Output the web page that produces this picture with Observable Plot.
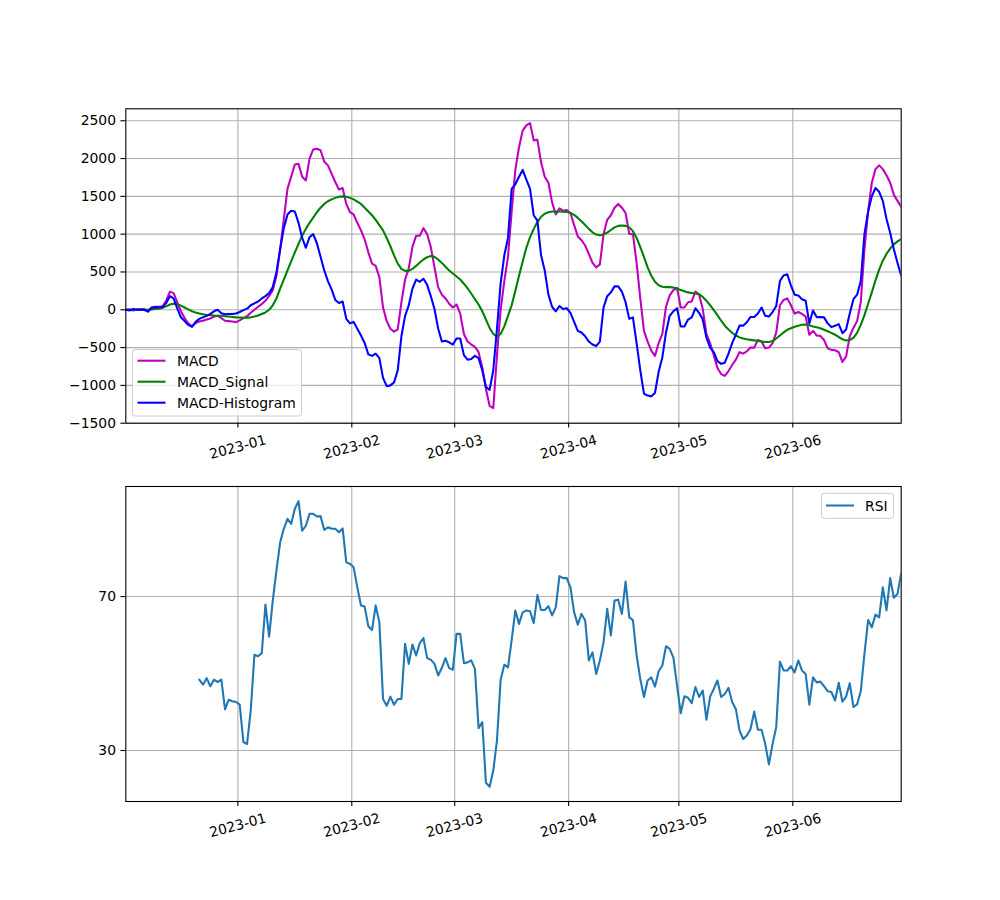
<!DOCTYPE html>
<html><head><meta charset="utf-8">
<script src="https://cdn.jsdelivr.net/npm/d3@7"></script>
<script src="https://cdn.jsdelivr.net/npm/@observablehq/plot@0.6"></script>
<style>
body{margin:0;background:#fff;}
#chart{width:1000px;height:900px;position:relative;background:#fff;}
#chart svg{display:block;}
</style>
</head><body><div id="chart"></div>
<script>
// ---- data (daily, starting at startDate) ----
const startDate = "2022-12-01T12:00:00Z";
const endDate = "2023-06-30T12:00:00Z";

const macd = [
0, 5, -10, 5, 0, 10, -20, 30, 40, 40,
45, 120, 240, 220, 100, -20, -110, -180, -220, -175,
-155, -145, -130, -115, -90, -80, -110, -145, -150, -155,
-163, -140, -110, -85, -40, 0, 40, 75, 120, 180,
260, 450, 800, 1200, 1600, 1760, 1920, 1930, 1760, 1710,
2000, 2120, 2130, 2110, 1960, 1910, 1800, 1690, 1590, 1610,
1400, 1290, 1260, 1150, 1050, 930, 760, 610, 580, 430,
30, -150, -250, -290, -260, 100, 400, 550, 830, 980,
980, 1080, 1000, 830, 560, 300, 200, 150, 80, 30,
70, -50, -320, -420, -460, -490, -560, -760, -1050, -1270,
-1300, -600, 0, 380, 700, 1300, 1850, 2150, 2370, 2440,
2470, 2240, 2250, 1950, 1760, 1680, 1420, 1260, 1340, 1310,
1320, 1280, 1120, 970, 920, 850, 740, 620, 560, 600,
1000, 1190, 1250, 1350, 1400, 1350, 1280, 1004, 1000, 620,
150, -280, -420, -540, -610, -440, -320, 40, 190, 260,
290, 30, 30, 100, 110, 240, 200, 10, -320, -440,
-600, -770, -850, -875, -810, -730, -660, -560, -580, -550,
-500, -500, -400, -420, -510, -500, -440, -300, 60, 130,
150, 60, -50, -30, -55, -90, -330, -280, -340, -345,
-400, -510, -530, -535, -560, -690, -620, -350, -240, -150,
100, 800, 1300, 1680, 1860, 1910, 1860, 1780, 1680, 1520,
1440, 1360
];

const macdSignal = [
0, 0, 0, 0, 0, 0, 0, 5, 10, 15,
25, 45, 70, 80, 75, 55, 30, 5, -20, -35,
-50, -60, -68, -72, -76, -78, -80, -85, -90, -95,
-100, -103, -105, -105, -100, -90, -75, -55, -35, 0,
60, 150, 280, 400, 520, 640, 760, 870, 980, 1070,
1150, 1220, 1290, 1350, 1400, 1435, 1460, 1480, 1495, 1500,
1495, 1480, 1460, 1430, 1400, 1350, 1300, 1250, 1190, 1120,
1050, 950, 840, 720, 610, 540, 515, 515, 540, 580,
625, 665, 695, 710, 700, 665, 620, 570, 520, 480,
440, 400, 345, 285, 215, 140, 70, -20, -130, -240,
-320, -355, -320, -220, -80, 60, 250, 450, 640, 820,
960, 1070, 1160, 1230, 1270, 1290, 1300, 1300, 1300, 1298,
1292, 1280, 1255, 1215, 1170, 1120, 1070, 1025, 995, 985,
995, 1020, 1055, 1090, 1110, 1115, 1110, 1090, 1040, 950,
830, 700, 560, 450, 370, 325, 305, 300, 300, 295,
280, 262, 245, 230, 222, 215, 205, 170, 120, 60,
-5, -70, -145, -210, -260, -305, -340, -365, -380, -390,
-398, -405, -412, -420, -427, -425, -414, -380, -340, -300,
-265, -245, -225, -210, -198, -195, -205, -220, -232, -245,
-265, -285, -305, -330, -360, -390, -405, -400, -370, -305,
-200, -70, 80, 230, 390, 530, 650, 740, 810, 865,
905, 935
];

const macdHist = [
0, -10, 10, 0, 5, 0, -25, 25, 35, 30,
35, 90, 180, 150, 20, -100, -150, -200, -225, -160,
-120, -100, -80, -55, -20, 0, -45, -60, -55, -55,
-50, -30, -5, 15, 60, 85, 110, 150, 180, 220,
300, 500, 800, 1080, 1260, 1310, 1300, 1150, 950, 820,
960, 1000, 880, 700, 520, 380, 270, 130, 90, 110,
-120, -180, -160, -250, -340, -440, -590, -610, -580, -640,
-900, -1010, -1000, -960, -800, -350, -80, 60, 280, 400,
370, 410, 330, 180, 10, -250, -420, -410, -430, -460,
-380, -380, -600, -660, -650, -610, -640, -800, -1020, -1060,
-800, -250, 350, 720, 950, 1600, 1660, 1760, 1850, 1720,
1600, 1250, 1180, 720, 520, 200, 40, -20, 50, 10,
20, -40, -160, -280, -300, -350, -420, -460, -480, -420,
30, 180, 230, 310, 310, 240, 100, -120, -100, -440,
-800, -1110, -1135, -1145, -1100, -820, -630, -300, -80, -20,
20, -220, -220, -130, -100, 20, -40, -130, -370, -500,
-560, -680, -715, -700, -580, -440, -330, -210, -210, -165,
-95, -95, -50, 30, -80, -90, -30, 50, 380, 455,
470, 320, 200, 190, 140, 120, -180, -10, -97, -97,
-100, -180, -229, -210, -190, -310, -260, -50, 140, 200,
380, 1000, 1300, 1500, 1610, 1560, 1440, 1200, 1020, 800,
620, 450
];

const rsiStartOffset = 20; // RSI begins 20 days after startDate
const rsi = [
48.4, 47.1, 48.8, 46.7, 48.4, 47.8, 48.4, 40.7, 43.2, 42.8,
42.6, 41.9, 32.2, 31.7, 40.4, 54.9, 54.5, 55.3, 67.9, 59.6,
69, 76.8, 84.1, 87.6, 90.2, 88.9, 92.8, 94.8, 87.1, 88.4,
91.5, 91.5, 90.8, 90.9, 87.3, 88, 87.6, 87.6, 86.7, 87.7,
78.9, 78.5, 77.6, 72.4, 67.7, 67.4, 62.3, 61.3, 67.7, 63.3,
43.4, 41.6, 44, 41.9, 43.4, 43.4, 57.7, 52.5, 57.5, 54.7,
57.9, 59.2, 54, 53.6, 52.5, 49.5, 51.5, 54, 51.4, 51,
60.3, 60.3, 52.7, 52.9, 53.4, 51.2, 35.8, 37.4, 21.6, 20.6,
24.8, 32.6, 48.4, 52.3, 51.6, 58.7, 66.4, 62.9, 65.9, 66.4,
66.2, 63.1, 70.4, 66.5, 66.5, 67.5, 65.1, 67.2, 75.3, 74.8,
74.8, 72.4, 65.9, 62.7, 65.5, 63.8, 53.4, 55.5, 49.9, 53.4,
58.1, 66.8, 59.9, 69, 69.2, 65.5, 73.9, 64.6, 63.9, 54.7,
48.6, 43.9, 48.2, 49, 46.6, 50.6, 52.1, 57.1, 56.4, 54.2,
46.9, 39.7, 44.1, 43.7, 42.3, 46.5, 43.9, 45.6, 38, 44,
46, 48.2, 43.9, 44.7, 46.3, 42.6, 40.8, 35.2, 33, 33.9,
35.6, 40.1, 35.4, 35.4, 31.7, 26.4, 31.7, 36.1, 53.1, 50.8,
50.8, 51.9, 50.3, 53.4, 50.8, 49.9, 41.9, 49, 47.7, 47.9,
46.7, 45.4, 45.2, 43, 47.6, 42.7, 44, 47.5, 41.3, 42,
45.4, 55.1, 63.9, 62, 65.3, 64.6, 72.4, 66.4, 74.8, 69.7,
70.7, 76.1
];

const tickDates = ["2023-01-01", "2023-02-01", "2023-03-01", "2023-04-01", "2023-05-01", "2023-06-01"];
const tickLabels = ["2023-01", "2023-02", "2023-03", "2023-04", "2023-05", "2023-06"];
const macdTicks = [-1500, -1000, -500, 0, 500, 1000, 1500, 2000, 2500];
const rsiTicks = [30, 70];
const macdNames = ["MACD", "MACD_Signal", "MACD-Histogram"];
const macdColors = ["#bf00bf", "#008000", "#0000ff"];
const rsiName = "RSI";
const rsiColor = "#1f77b4";

// ---- build ----
const t0 = new Date(startDate);
const dates = macd.map((_, i) => d3.utcDay.offset(t0, i));
const idx = d3.range(macd.length);
const rIdx = d3.range(rsi.length);
const xDomain = [new Date(startDate), new Date(endDate)];
const tickDateObjs = tickDates.map(s => new Date(s + "T00:00:00Z"));
const FS = 13.9;
const LW = 2.08;
const GRID = {stroke: "#b0b0b0", strokeOpacity: 1, strokeWidth: 1.1};

const common = {
  width: 1000, marginLeft: 125.3, marginRight: 99.3,
  style: {fontFamily: "'DejaVu Sans', sans-serif", fontSize: FS + "px", background: "white", color: "black", overflow: "visible"}
};

function xLabels() {
  return [
    Plot.axisX({ticks: tickDateObjs, tickSize: 4.9, tickFormat: () => "", label: null, strokeWidth: 1.1}),
    Plot.text(tickDateObjs, {x: d => d, text: (d, i) => tickLabels[i], frameAnchor: "bottom", dy: 24, rotate: -15,
      textAnchor: "middle", lineAnchor: "middle", fontSize: FS, fill: "black"})
  ];
}

const seriesArrays = [macd, macdSignal, macdHist];

const topPlot = Plot.plot({
  ...common,
  height: 470, marginTop: 108.3, marginBottom: 47.3,
  x: {type: "utc", domain: xDomain},
  y: {domain: [-1500, 2658]},
  marks: [
    Plot.gridX(tickDateObjs, GRID),
    Plot.gridY(macdTicks, GRID),
    ...seriesArrays.map((arr, k) => Plot.line(idx, {
      x: i => dates[i], y: i => arr[i], stroke: macdColors[k], strokeWidth: LW,
      strokeLinejoin: "round", clip: true
    })),
    Plot.frame({stroke: "black", strokeWidth: 1.1}),
    Plot.axisY({ticks: macdTicks, tickSize: 4.9, tickPadding: 4.9, tickFormat: d3.format("d"), label: null, fontSize: FS, strokeWidth: 1.1}),
    ...xLabels()
  ]
});

const botPlot = Plot.plot({
  ...common,
  height: 430, marginTop: 16, marginBottom: 99,
  x: {type: "utc", domain: xDomain},
  y: {domain: [16.75, 98.6]},
  marks: [
    Plot.gridX(tickDateObjs, GRID),
    Plot.gridY(rsiTicks, GRID),
    Plot.line(rIdx, {x: i => dates[i + rsiStartOffset], y: i => rsi[i], stroke: rsiColor, strokeWidth: LW,
      strokeLinejoin: "round", clip: true}),
    Plot.frame({stroke: "black", strokeWidth: 1.1}),
    Plot.axisY({ticks: rsiTicks, tickSize: 4.9, tickPadding: 4.9, tickFormat: d3.format("d"), label: null, fontSize: FS, strokeWidth: 1.1}),
    ...xLabels()
  ]
});

function legend(svg, box, lineX0, lineX1, textX, rows) {
  const g = d3.select(svg).append("g").attr("font-family", "'DejaVu Sans', sans-serif").attr("font-size", FS)
    .attr("text-anchor", "start");
  g.append("rect").attr("x", box[0]).attr("y", box[1]).attr("width", box[2]).attr("height", box[3])
    .attr("rx", 2.8).attr("fill", "white").attr("fill-opacity", 0.8).attr("stroke", "#cccccc").attr("stroke-width", 1);
  rows.forEach(r => {
    g.append("line").attr("x1", lineX0).attr("x2", lineX1).attr("y1", r.y).attr("y2", r.y)
      .attr("stroke", r.color).attr("stroke-width", LW);
    g.append("text").attr("x", textX).attr("y", r.y).attr("dy", "0.36em").attr("text-anchor", "start")
      .attr("fill", "#000").text(r.name);
  });
}

legend(topPlot, [132.5, 349.5, 169, 66.5], 137.5, 165.5, 177, macdNames.map((n, k) => ({name: n, color: macdColors[k], y: 360.7 + k * 21})));
legend(botPlot, [821.5, 23.3, 72, 25], 826, 854, 865, [{name: rsiName, color: rsiColor, y: 35.5}]);

const chart = document.getElementById("chart");
chart.appendChild(topPlot);
chart.appendChild(botPlot);
</script>
</body></html>
